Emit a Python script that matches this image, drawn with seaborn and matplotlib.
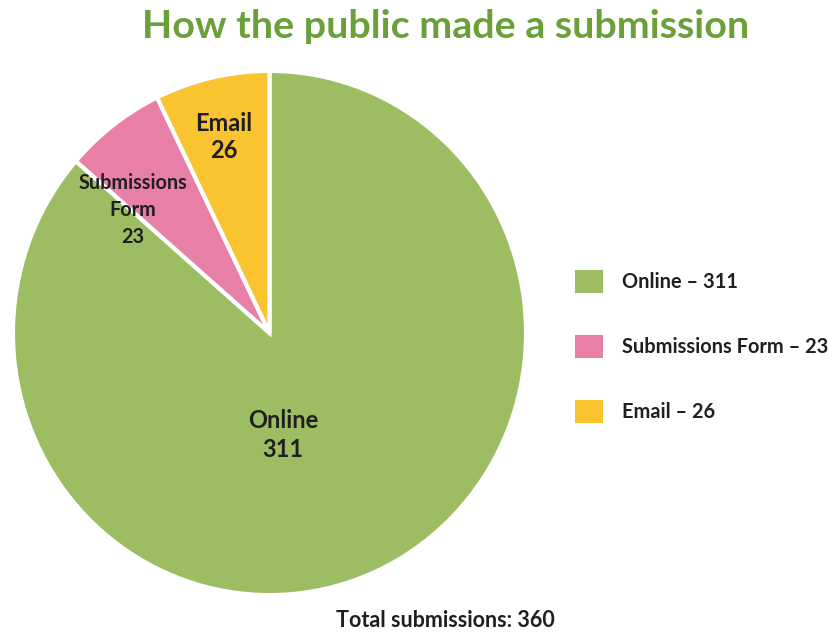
import matplotlib
matplotlib.use("Agg")
import matplotlib.pyplot as plt
from matplotlib.patches import Patch
import seaborn as sns

categories = ["Online", "Submissions Form", "Email"]
values = [311, 23, 26]
slice_labels = ["Online\n311", "Submissions\nForm\n23", "Email\n26"]
title = "How the public made a submission"
total_text = "Total submissions: 360"

sns.set_theme(style="white")
plt.rcParams['font.family'] = ['Lato', 'DejaVu Sans']

colors = ["#9dbd62", "#e87fa6", "#f9c42f"]

fig = plt.figure(figsize=(8.29, 6.34), dpi=100)
ax = fig.add_axes([0.01809, 0.06467, 0.614, 0.8202])
wedges, _ = ax.pie(values, colors=colors, startangle=90, counterclock=False,
                   radius=1.008,
                   wedgeprops=dict(edgecolor="white", linewidth=3))
ax.set_xlim(-1.0, 1.0)
ax.set_ylim(-1.0, 1.0)
ax.set_aspect("auto")

label_pos = [(0.053, -0.392), (-0.536, 0.473), (-0.179, 0.754)]
label_sizes = [17, 14.3, 17]
label_spacing = [1.3, 1.45, 1.25]
for (x, y), lab, fs, ls in zip(label_pos, slice_labels, label_sizes, label_spacing):
    ax.text(x, y, lab, ha="center", va="center", fontsize=fs, fontweight="bold",
            color="#1f1f1f", linespacing=ls)

fig.text(0.537, 0.958, title, ha="center", va="center", fontsize=28.4,
         fontweight="bold", color="#6a9f3a")
fig.text(0.537, 0.021, total_text, ha="center", va="center", fontsize=15.5,
         fontweight="bold", color="#1f1f1f")

handles = [Patch(facecolor=c, edgecolor="none") for c in colors]
leg_labels = [f"{c} \u2013 {v}" for c, v in zip(categories, values)]
leg = fig.legend(handles, leg_labels, loc="center left", bbox_to_anchor=(0.6936, 0.454),
                 frameon=False, fontsize=14.4, handlelength=1.4, handleheight=1.4,
                 labelspacing=2.1, handletextpad=0.95, borderaxespad=0, borderpad=0)
for t in leg.get_texts():
    t.set_fontweight("bold")
    t.set_color("#1f1f1f")

fig.savefig("out.png", dpi=100, facecolor="white")
